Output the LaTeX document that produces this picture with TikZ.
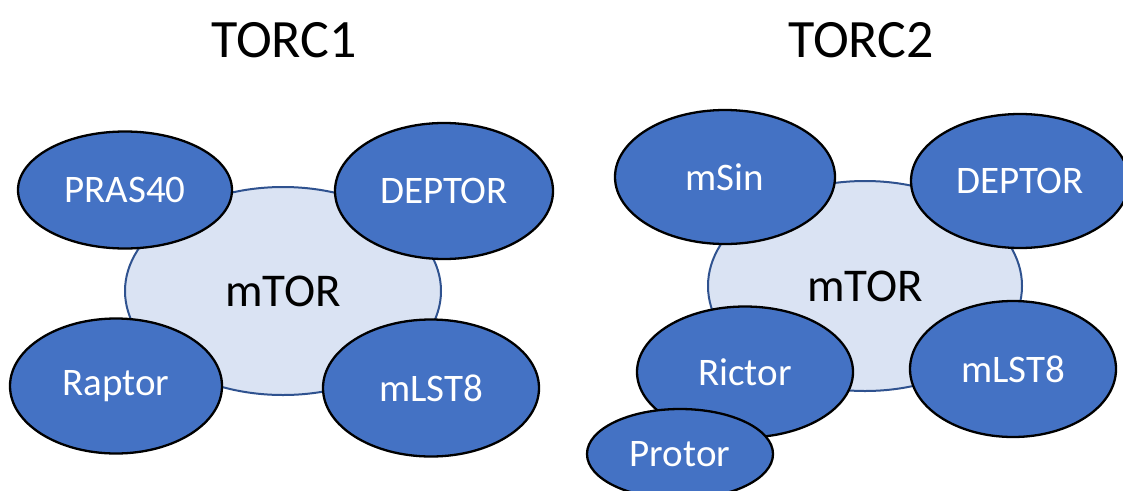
\documentclass[tikz,border=0pt]{standalone}
\usepackage{fontspec}
\setmainfont{Carlito}
\usetikzlibrary{shapes.geometric}
\definecolor{subblue}{HTML}{4472C4}
\definecolor{corefill}{HTML}{DAE3F3}
\definecolor{coreline}{HTML}{2F528F}
\tikzset{
  core/.style={ellipse, draw=coreline, line width=2pt, fill=corefill, inner sep=0pt, font=\fontsize{47}{50}\selectfont, text=black},
  sub/.style={ellipse, draw=black, line width=2.3pt, fill=subblue, inner sep=0pt, font=\fontsize{39}{42}\selectfont, text=white},
  title/.style={font=\fontsize{54}{58}\selectfont, text=black, inner sep=0pt}
}
\begin{document}
\begin{tikzpicture}[x=1pt,y=-1pt]
\useasboundingbox (0,0) rectangle (1123,490);
% titles
\node[title] (t1) at (284,40) {TORC1};
\node[title] (t2) at (861,40) {TORC2};
% TORC1
\node[core, minimum width=316pt, minimum height=208pt] (core1) at (283,291) {mTOR};
\node[sub, minimum width=214pt, minimum height=117pt] (pras) at (125,190) {PRAS40};
\node[sub, minimum width=218pt, minimum height=136pt] (dep1) at (444,191) {DEPTOR};
\node[sub, minimum width=212pt, minimum height=135pt] (rap) at (116,386) {Raptor};
\node[sub, minimum width=216pt, minimum height=137pt] (lst1) at (431,388) {mLST8};
% TORC2
\node[core, minimum width=314pt, minimum height=210pt] (core2) at (865,286) {mTOR};
\node[sub, minimum width=220pt, minimum height=134pt] (msin) at (725,177) {mSin};
\node[sub, minimum width=218pt, minimum height=134pt] (dep2) at (1020,181) {DEPTOR};
\node[sub, minimum width=206pt, minimum height=136pt] (lst2) at (1013,369) {mLST8};
\node[sub, minimum width=216pt, minimum height=131pt] (ric) at (745,372) {Rictor};
\node[sub, minimum width=186pt, minimum height=90pt] (pro) at (680,454) {Protor};
\end{tikzpicture}
\end{document}
